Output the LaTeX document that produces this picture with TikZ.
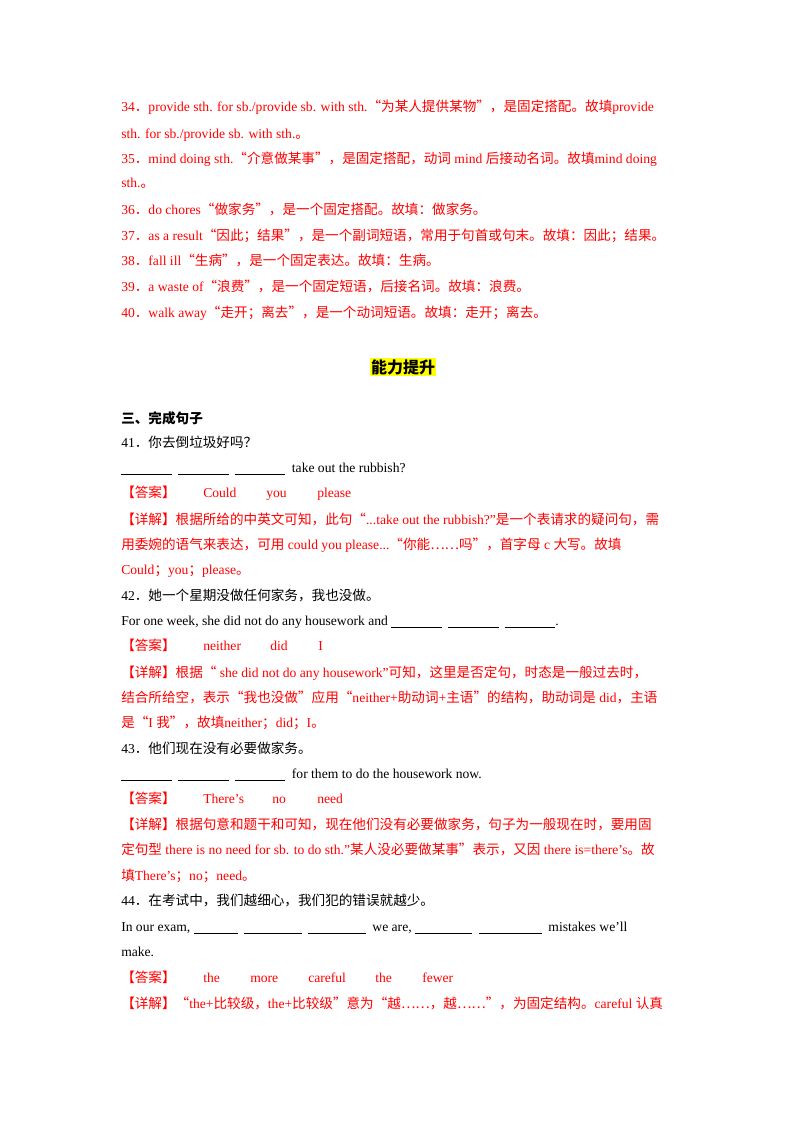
\documentclass[tikz,border=0pt]{standalone}
\usepackage{fontspec}
\setmainfont{Liberation Serif}
\newfontfamily\cjk{Noto Sans CJK SC}
\usepackage{xcolor}
\definecolor{ansred}{RGB}{255,0,0}
\definecolor{markyellow}{RGB}{255,255,0}
\newcommand\zh[1]{{\cjk #1}}
\newcommand\blank[1]{\rule[-2pt]{#1pt}{0.5pt}}
\tikzset{
  txt/.style={anchor=base west, inner sep=0pt, font=\fontsize{10.2}{12}\selectfont},
  redtxt/.style={txt, text=ansred}
}
\begin{document}
\begin{tikzpicture}[x=0.75pt,y=-0.75pt]
\useasboundingbox (0,0) rectangle (800,1132);
\fill[white] (0,0) rectangle (800,1132);
% explanations 34-40
\node[redtxt] (l34a) at (121,111) {34\zh{．}provide sth. for sb./provide sb. with sth.\zh{“为某人提供某物”，是固定搭配。故填}provide};
\node[redtxt] (l34b) at (121,138) {sth. for sb./provide sb. with sth.\zh{。}};
\node[redtxt] (l35a) at (121,163) {35\zh{．}mind doing sth.\zh{“介意做某事”，是固定搭配，动词} mind \zh{后接动名词。故填}mind doing};
\node[redtxt] (l35b) at (121,187) {sth.\zh{。}};
\node[redtxt] (l36) at (121,214) {36\zh{．}do chores\zh{“做家务”，是一个固定搭配。故填：做家务。}};
\node[redtxt] (l37) at (121,240) {37\zh{．}as a result\zh{“因此；结果”，是一个副词短语，常用于句首或句末。故填：因此；结果。}};
\node[redtxt] (l38) at (121,265) {38\zh{．}fall ill\zh{“生病”，是一个固定表达。故填：生病。}};
\node[redtxt] (l39) at (121,291) {39\zh{．}a waste of\zh{“浪费”，是一个固定短语，后接名词。故填：浪费。}};
\node[redtxt] (l40) at (121,317) {40\zh{．}walk away\zh{“走开；离去”，是一个动词短语。故填：走开；离去。}};
% heading
\node[anchor=center, fill=markyellow, inner sep=1pt, font=\fontsize{12}{14}\selectfont] (title) at (403,367) {\cjk\bfseries 能力提升};
\node[txt] (sec) at (121,423) {\cjk\bfseries 三、完成句子};
% 41
\node[txt] (q41) at (121,447) {41\zh{．你去倒垃圾好吗？}};
\node[txt] (s41) at (121,472) {\blank{38}\hspace{4.5pt}\blank{38}\hspace{4.5pt}\blank{38}\hspace{5pt}take out the rubbish?};
\node[redtxt] (a41) at (121,497) {\zh{【答案】}};
\node[redtxt] (a41a) at (203,497) {Could};
\node[redtxt] (a41b) at (266,497) {you};
\node[redtxt] (a41c) at (317,497) {please};
\node[redtxt] (e41a) at (121,524) {\zh{【详解】根据所给的中英文可知，此句“}...take out the rubbish?"\zh{是一个表请求的疑问句，需}};
\node[redtxt] (e41b) at (121,549) {\zh{用委婉的语气来表达，可用} could you please...\zh{“你能……吗”，首字母} c \zh{大写。故填}};
\node[redtxt] (e41c) at (121,574) {Could\zh{；}you\zh{；}please\zh{。}};
% 42
\node[txt] (q42) at (121,600) {42\zh{．她一个星期没做任何家务，我也没做。}};
\node[txt] (s42) at (121,625) {For one week, she did not do any housework and \blank{38}\hspace{4.5pt}\blank{38}\hspace{4.5pt}\blank{38}.};
\node[redtxt] (a42) at (121,650) {\zh{【答案】}};
\node[redtxt] (a42a) at (203,650) {neither};
\node[redtxt] (a42b) at (270,650) {did};
\node[redtxt] (a42c) at (318,650) {I};
\node[redtxt] (e42a) at (121,677) {\zh{【详解】根据“} she did not do any housework"\zh{可知，这里是否定句，时态是一般过去时，}};
\node[redtxt] (e42b) at (121,702) {\zh{结合所给空，表示“我也没做”应用“}neither+\zh{助动词}+\zh{主语”的结构，助动词是} did\zh{，主语}};
\node[redtxt] (e42c) at (121,727) {\zh{是“}I \zh{我”，故填}neither\zh{；}did\zh{；}I\zh{。}};
% 43
\node[txt] (q43) at (121,753) {43\zh{．他们现在没有必要做家务。}};
\node[txt] (s43) at (121,778) {\blank{38}\hspace{4.5pt}\blank{38}\hspace{4.5pt}\blank{38}\hspace{5pt}for them to do the housework now.};
\node[redtxt] (a43) at (121,803) {\zh{【答案】}};
\node[redtxt] (a43a) at (203,803) {There's};
\node[redtxt] (a43b) at (272,803) {no};
\node[redtxt] (a43c) at (317,803) {need};
\node[redtxt] (e43a) at (121,829) {\zh{【详解】根据句意和题干和可知，现在他们没有必要做家务，句子为一般现在时，要用固}};
\node[redtxt] (e43b) at (121,854) {\zh{定句型} there is no need for sb. to do sth."\zh{某人没必要做某事”表示，又因} there is=there's\zh{。故}};
\node[redtxt] (e43c) at (121,880) {\zh{填}There's\zh{；}no\zh{；}need\zh{。}};
% 44
\node[txt] (q44) at (121,905) {44\zh{．在考试中，我们越细心，我们犯的错误就越少。}};
\node[txt] (s44a) at (121,931) {In our exam, \blank{33}\hspace{5pt}\blank{43}\hspace{5pt}\blank{43}\hspace{5pt}we are, \blank{43}\hspace{5pt}\blank{47}\hspace{5pt}mistakes we'll};
\node[txt] (s44b) at (121,956) {make.};
\node[redtxt] (a44) at (121,982) {\zh{【答案】}};
\node[redtxt] (a44a) at (203,982) {the};
\node[redtxt] (a44b) at (250,982) {more};
\node[redtxt] (a44c) at (308,982) {careful};
\node[redtxt] (a44d) at (375,982) {the};
\node[redtxt] (a44e) at (422,982) {fewer};
\node[redtxt] (e44a) at (121,1008) {\zh{【详解】“}the+\zh{比较级，}the+\zh{比较级”意为“越……，越……”，为固定结构。}careful \zh{认真}};
\end{tikzpicture}
\end{document}
